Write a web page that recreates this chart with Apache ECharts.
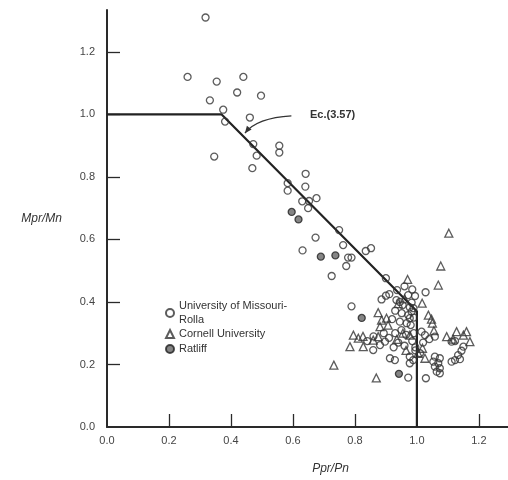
<!DOCTYPE html>
<html>
<head>
<meta charset="utf-8">
<script src="https://cdn.jsdelivr.net/npm/echarts@6/dist/echarts.min.js"></script>
<style>
html,body{margin:0;padding:0;background:#fff;}
#chart{width:508px;height:480px;}
</style>
</head>
<body>
<div id="chart"></div>
<script>
// ---- data ----
const xTickLabels = [0.0, 0.2, 0.4, 0.6, 0.8, 1.0, 1.2];
const yTickLabels = [0.0, 0.2, 0.4, 0.6, 0.8, 1.0, 1.2];
const xTickMarks = [0.2, 0.4, 0.6, 0.8, 1.2];
const yTickMarks = [0.2, 0.4, 0.6, 0.8, 1.0, 1.2];

const eqX = [0.0, 0.37, 1.0, 1.0];
const eqY = [1.0, 1.0, 0.37, 0.0];

const rollaPoints = [
  [0.318,1.31],[0.26,1.12],[0.354,1.105],[0.44,1.12],[0.42,1.07],[0.497,1.06],[0.332,1.045],[0.375,1.015],
  [0.381,0.977],[0.461,0.99],[0.346,0.865],[0.472,0.905],[0.483,0.868],[0.469,0.828],
  [0.556,0.90],[0.556,0.878],[0.641,0.81],[0.583,0.78],[0.583,0.756],[0.64,0.769],[0.63,0.722],[0.652,0.723],
  [0.676,0.732],[0.649,0.70],[0.749,0.63],[0.673,0.606],[0.762,0.582],[0.631,0.565],[0.778,0.542],[0.789,0.542],
  [0.772,0.515],[0.835,0.563],[0.852,0.572],[0.725,0.483],[0.789,0.386],
  [0.90,0.476],[0.936,0.438],[0.886,0.408],[0.90,0.42],[0.911,0.425],[0.934,0.406],[0.945,0.40],[0.972,0.422],
  [0.994,0.419],[0.983,0.398],[0.954,0.39],[0.977,0.383],[1.028,0.431],[0.96,0.45],[0.985,0.44],
  [0.951,0.364],[0.972,0.358],[0.983,0.369],[0.93,0.372],[0.945,0.337],[0.967,0.332],[0.977,0.348],[0.98,0.326],
  [0.92,0.345],[0.99,0.35],[0.989,0.38],
  [1.015,0.305],[1.026,0.294],[1.04,0.281],[1.058,0.289],[0.93,0.30],[0.95,0.31],[0.965,0.295],[0.99,0.30],
  [0.893,0.30],[0.86,0.29],[0.84,0.275],[0.91,0.285],
  [0.859,0.246],[0.881,0.262],[0.897,0.273],[0.94,0.27],[0.96,0.26],[0.985,0.275],[0.995,0.255],[1.02,0.27],[0.925,0.255],
  [0.913,0.22],[0.929,0.214],[0.977,0.225],[0.988,0.214],[0.977,0.204],[1.01,0.236],[0.995,0.245],
  [1.058,0.225],[1.074,0.22],[1.053,0.209],[1.069,0.204],[1.058,0.193],[1.074,0.188],[1.064,0.177],[1.074,0.172],
  [1.112,0.273],[1.123,0.275],[1.15,0.257],[1.144,0.244],[1.133,0.23],[1.123,0.214],[1.112,0.209],[1.139,0.217],
  [0.972,0.158],[1.029,0.156]
];

const cornellPoints = [
  [1.103,0.62],[1.077,0.515],[1.069,0.454],[0.97,0.472],[1.017,0.396],[1.037,0.358],[1.047,0.345],[1.05,0.332],[1.055,0.308],
  [1.096,0.289],[1.117,0.281],[1.128,0.305],[1.15,0.294],[1.16,0.305],[1.171,0.273],[1.018,0.252],[1.026,0.22],[1.004,0.236],
  [0.732,0.198],[0.869,0.157],
  [0.875,0.366],[0.902,0.348],[0.886,0.342],[0.881,0.321],[0.907,0.326],
  [0.795,0.294],[0.811,0.284],[0.784,0.257],[0.827,0.257],[0.859,0.278],[0.875,0.289],[0.826,0.29],
  [0.977,0.294],[0.955,0.30],[0.935,0.28],[0.965,0.245],[0.94,0.395],[0.96,0.41]
];

const ratliffPoints = [
  [0.596,0.688],[0.618,0.664],[0.69,0.545],[0.737,0.549],[0.822,0.349],[0.942,0.17]
];

const seriesNames = ['University of Missouri-\nRolla', 'Cornell University', 'Ratliff'];
const eqLabel = 'Ec.(3.57)';
// annotation anchor points (data coords)
const eqLabelAt = [0.655, 0.995];
const arrowFrom = [0.595, 0.995];
const arrowTo = [0.445, 0.94];

// ---- chart ----
const FONT = 'Liberation Sans, Arial, Helvetica, sans-serif';
const INK = '#2a2a2a';
const chart = echarts.init(document.getElementById('chart'), null, {renderer: 'canvas'});

const legendBase = {
  orient: 'vertical', left: 160, itemGap: 0, itemWidth: 8, itemHeight: 8,
  textStyle: {fontFamily: FONT, fontSize: 11, color: '#333', lineHeight: 14}
};

const option = {
  backgroundColor: '#ffffff',
  animation: false,
  grid: {left: 107, right: 0, top: 10, bottom: 53, containLabel: false},
  xAxis: {
    type: 'value', min: 0, max: 1.294,
    name: 'Ppr/Pn', nameLocation: 'middle', nameGap: 36,
    nameTextStyle: {fontFamily: FONT, fontStyle: 'italic', fontSize: 12, color: '#333', padding: [0,0,0,46]},
    axisLine: {show: true, lineStyle: {color: INK, width: 2}},
    axisTick: {show: true, inside: true, length: 13, lineStyle: {color: INK, width: 1.3}, customValues: xTickMarks},
    axisLabel: {show: true, margin: 8, fontFamily: FONT, fontSize: 11, color: '#444',
      customValues: xTickLabels, formatter: v => v.toFixed(1)},
    splitLine: {show: false}
  },
  yAxis: {
    type: 'value', min: 0, max: 1.334,
    name: 'Mpr/Mn', nameLocation: 'middle', nameGap: 45, nameRotate: 0,
    nameTextStyle: {fontFamily: FONT, fontStyle: 'italic', fontSize: 12, color: '#333', align: 'right'},
    axisLine: {show: true, lineStyle: {color: INK, width: 2}},
    axisTick: {show: true, inside: true, length: 13, lineStyle: {color: INK, width: 1.3}, customValues: yTickMarks},
    axisLabel: {show: true, margin: 12, fontFamily: FONT, fontSize: 11, color: '#444',
      customValues: yTickLabels, formatter: v => v.toFixed(1)},
    splitLine: {show: false}
  },
  legend: [
    Object.assign({}, legendBase, {top: 287,
      data: [{name: seriesNames[0], textStyle: {padding: [14,0,0,0], lineHeight: 14}}]}),
    Object.assign({}, legendBase, {top: 322, data: [{name: seriesNames[1]}]}),
    Object.assign({}, legendBase, {top: 337, data: [{name: seriesNames[2]}]})
  ],
  series: [
    {
      type: 'line', name: 'eq', data: eqX.map((x, i) => [x, eqY[i]]),
      showSymbol: false, symbol: 'none', z: 1,
      lineStyle: {color: '#222', width: 2.2}, silent: true
    },
    {
      type: 'scatter', name: seriesNames[0], data: rollaPoints, symbol: 'circle', symbolSize: 7, z: 3,
      itemStyle: {color: 'rgba(255,255,255,0)', borderColor: '#333', borderWidth: 1.3}
    },
    {
      type: 'scatter', name: seriesNames[1], data: cornellPoints, symbol: 'triangle', symbolSize: 8, z: 3,
      itemStyle: {color: 'rgba(255,255,255,0)', borderColor: '#333', borderWidth: 1.3}
    },
    {
      type: 'scatter', name: seriesNames[2], data: ratliffPoints, symbol: 'circle', symbolSize: 7, z: 4,
      itemStyle: {color: '#666', borderColor: '#222', borderWidth: 1.3}
    }
  ]
};
chart.setOption(option);

// annotation placed from data coordinates
const p = v => chart.convertToPixel({gridIndex: 0}, v);
const lab = p(eqLabelAt), a0 = p(arrowFrom), a1 = p(arrowTo);
const ctrl = [a1[0] + 12, a0[1] + 2];
const dx = a1[0] - ctrl[0], dy = a1[1] - ctrl[1];
const len = Math.hypot(dx, dy), ux = dx / len, uy = dy / len;
const hl = 7, hw = 3;
const head = [
  [a1[0], a1[1]],
  [a1[0] - ux * hl - uy * hw, a1[1] - uy * hl + ux * hw],
  [a1[0] - ux * hl + uy * hw, a1[1] - uy * hl - ux * hw]
];
chart.setOption({
  graphic: [
    {type: 'text', left: lab[0], top: lab[1] - 7, z: 10,
      style: {text: eqLabel, font: 'bold 11px ' + FONT, fill: '#333'}},
    {type: 'bezierCurve', z: 10,
      shape: {x1: a0[0], y1: a0[1], x2: a1[0], y2: a1[1], cpx1: ctrl[0], cpy1: ctrl[1]},
      style: {stroke: '#333', lineWidth: 1.2, fill: null}},
    {type: 'polygon', z: 10, shape: {points: head}, style: {fill: '#333'}}
  ]
});
</script>
</body>
</html>
